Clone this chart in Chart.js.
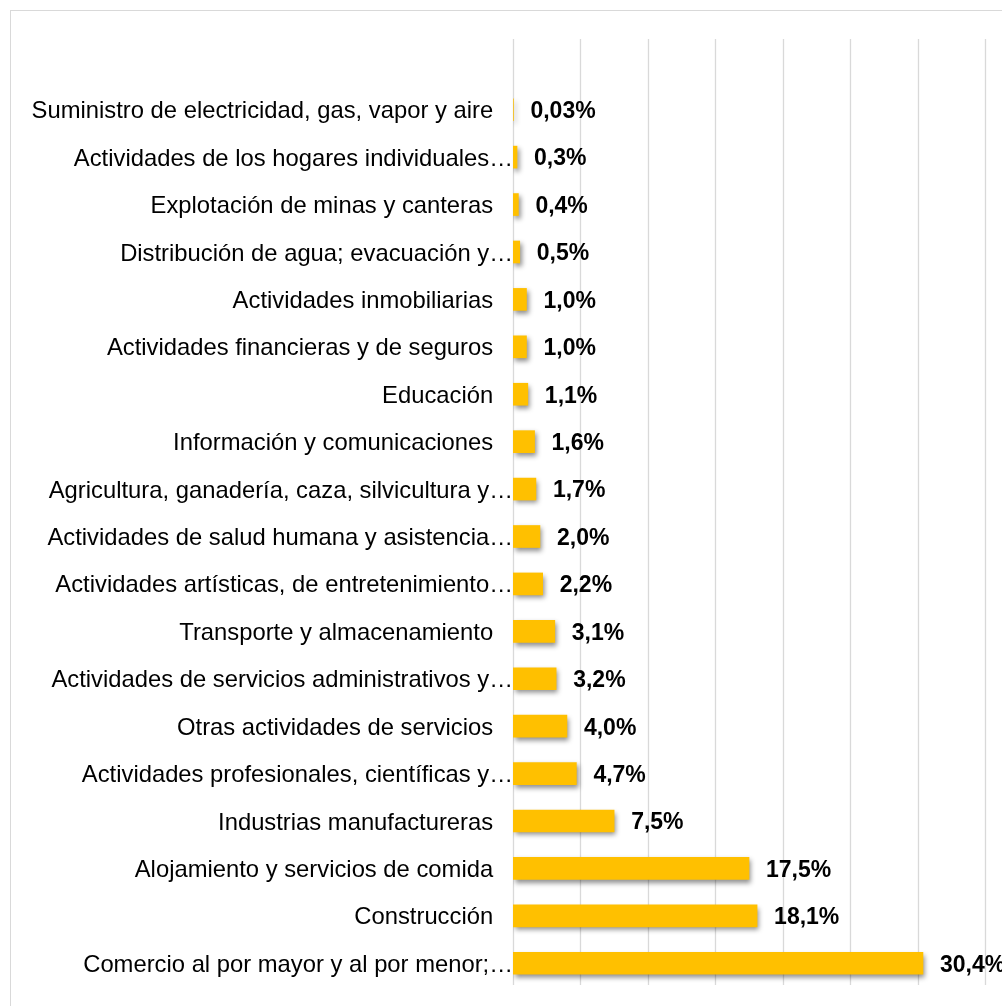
<!DOCTYPE html>
<html lang="es">
<head>
<meta charset="UTF-8">
<title>Sectores</title>
<script src="https://cdn.jsdelivr.net/npm/chart.js"></script>
<style>
  body { margin: 0; background: #fff; overflow: hidden; }
  /* marco gris del grafico, sale por la derecha y abajo */
  #marco {
    position: absolute; left: 10px; top: 10px;
    width: 1100px; height: 1100px;
    border: 1px solid #d9d9d9;
  }
  #wrap { position: absolute; left: 0; top: 0; width: 1002px; height: 1006px; }
</style>
</head>
<body>
<div id="marco"></div>
<div id="wrap"><canvas id="barChart"></canvas></div>
<script>
// categorias (de arriba a abajo)
var categorias = [
  'Suministro de electricidad, gas, vapor y aire',
  'Actividades de los hogares individuales…',
  'Explotación de minas y canteras',
  'Distribución de agua; evacuación y…',
  'Actividades inmobiliarias',
  'Actividades financieras y de seguros',
  'Educación',
  'Información y comunicaciones',
  'Agricultura, ganadería, caza, silvicultura y…',
  'Actividades de salud humana y asistencia…',
  'Actividades artísticas, de entretenimiento…',
  'Transporte y almacenamiento',
  'Actividades de servicios administrativos y…',
  'Otras actividades de servicios',
  'Actividades profesionales, científicas y…',
  'Industrias manufactureras',
  'Alojamiento y servicios de comida',
  'Construcción',
  'Comercio al por mayor y al por menor;…'
];
// porcentajes
var valores = [0.03, 0.3, 0.4, 0.5, 1.0, 1.0, 1.1, 1.6, 1.7, 2.0, 2.2, 3.1, 3.2, 4.0, 4.7, 7.5, 17.5, 18.1, 30.4];
// lineas de division del eje x
var marcasX = [0, 5, 10, 15, 20, 25, 30, 35];

function formato(v) {
  return v.toFixed(v < 0.1 ? 2 : 1).replace('.', ',') + '%';
}

// lineas verticales que suben por encima de la primera barra
var lineasPlugin = {
  id: 'lineas',
  beforeDatasetsDraw: function (chart) {
    var ctx = chart.ctx, x = chart.scales.x, area = chart.chartArea;
    ctx.save();
    ctx.strokeStyle = '#d9d9d9';
    ctx.lineWidth = 1.3;
    marcasX.forEach(function (m) {
      var px = Math.round(x.getPixelForValue(m)) + 0.5;
      ctx.beginPath();
      ctx.moveTo(px, 39);
      ctx.lineTo(px, area.bottom - 2);
      ctx.stroke();
    });
    ctx.restore();
  }
};

// sombra de las barras
var sombraPlugin = {
  id: 'sombra',
  beforeDatasetDraw: function (chart) {
    var ctx = chart.ctx;
    ctx.save();
    ctx.shadowColor = 'rgba(0,0,0,0.45)';
    ctx.shadowBlur = 5;
    ctx.shadowOffsetX = 2;
    ctx.shadowOffsetY = 3;
  },
  afterDatasetDraw: function (chart) {
    chart.ctx.restore();
  }
};

// etiquetas de valor
var etiquetasPlugin = {
  id: 'etiquetas',
  afterDatasetsDraw: function (chart) {
    var ctx = chart.ctx;
    var meta = chart.getDatasetMeta(0);
    ctx.save();
    ctx.font = 'bold 23px "Liberation Sans", Arial, sans-serif';
    ctx.fillStyle = '#000';
    ctx.textAlign = 'left';
    ctx.textBaseline = 'middle';
    meta.data.forEach(function (bar, i) {
      ctx.fillText(formato(valores[i]), bar.x + 17, bar.y + 2);
    });
    ctx.restore();
  }
};

var ctx = document.getElementById('barChart').getContext('2d');
new Chart(ctx, {
  type: 'bar',
  data: {
    labels: categorias,
    datasets: [{
      data: valores,
      backgroundColor: '#FFC000',
      borderWidth: 0,
      barThickness: 22
    }]
  },
  options: {
    indexAxis: 'y',
    responsive: true,
    maintainAspectRatio: false,
    animation: false,
    layout: { padding: { top: 86, bottom: 19, right: 17, left: 0 } },
    plugins: {
      legend: { display: false },
      tooltip: { enabled: false }
    },
    scales: {
      x: {
        min: 0,
        max: 35,
        ticks: { display: false, stepSize: 5 },
        grid: { display: false, drawTicks: false },
        border: { display: false }
      },
      y: {
        afterFit: function (scale) { scale.width = 513; },
        grid: { display: false, drawTicks: false },
        border: { display: false },
        ticks: {
          autoSkip: false,
          padding: 0,
          labelOffset: 2,
          color: '#000',
          font: { family: '"Liberation Sans", Arial, sans-serif', size: 23.8 },
          // las etiquetas completas dejan un hueco de unos 20px a la derecha
          callback: function (v, i) {
            var t = categorias[i];
            return t.slice(-1) === '…' ? t : t + '\u2002\u2004';
          }
        }
      }
    }
  },
  plugins: [lineasPlugin, sombraPlugin, etiquetasPlugin]
});
</script>
</body>
</html>
